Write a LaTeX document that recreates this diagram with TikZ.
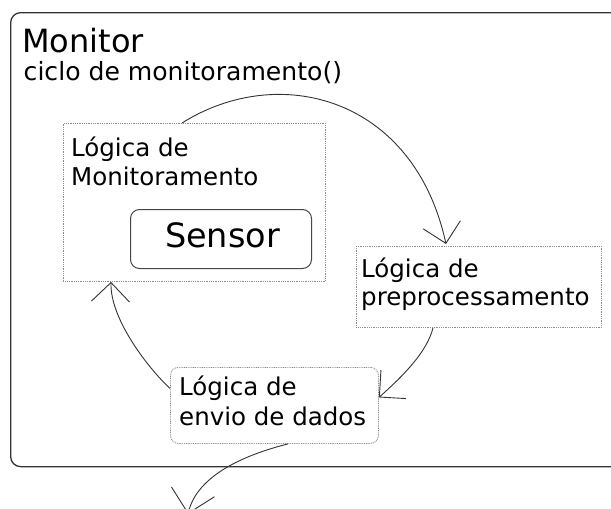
\documentclass[tikz,border=0pt]{standalone}
\usepackage{fontspec}
\setmainfont{DejaVu Sans}
\usetikzlibrary{arrows.meta}

\definecolor{edgeink}{HTML}{333333}
\definecolor{dotink}{HTML}{8C8C8C}

\tikzset{
  outerbox/.style={draw=edgeink, line width=1.3pt, rounded corners=10pt,
    anchor=north west, inner sep=0pt},
  dotbox/.style={draw=dotink, line width=0.9pt, dash pattern=on 0.9pt off 0.9pt,
    anchor=north west, inner sep=0pt},
  sensorbox/.style={draw=edgeink!90, line width=1pt, rounded corners=9pt,
    anchor=north west, inner sep=0pt},
  boxtext/.style={anchor=base west, inner sep=0pt, font=\fontsize{24.5}{29}\selectfont},
  conn/.style={draw=edgeink, line width=0.9pt,
    -{Straight Barb[length=19pt, width=38pt, line width=0.9pt]}},
}

\begin{document}
\begin{tikzpicture}[x=1pt, y=-1pt]
  \useasboundingbox (0,0) rectangle (611,509);
  \fill[white] (0,0) rectangle (611,509);
  \clip (0,0) rectangle (611,509);

  % container
  \node[outerbox, minimum width=640pt, minimum height=454pt] (monitor) at (10,12) {};
  \node[anchor=base west, inner sep=0pt, font=\fontsize{32}{36}\selectfont] (title) at (22,52) {Monitor};
  \node[anchor=base west, inner sep=0pt, font=\fontsize{25.1}{30}\selectfont] (loop) at (23.5,80) {ciclo de monitoramento()};

  % monitoring logic with its sensor
  \node[dotbox, minimum width=262pt, minimum height=158pt] (logmon) at (63,123) {};
  \node[boxtext] (logmon1) at (71,156) {Lógica de};
  \node[boxtext] (logmon2) at (71,185) {Monitoramento};
  \node[sensorbox, minimum width=181pt, minimum height=59pt, text depth=7pt,
        font=\fontsize{33.5}{38}\selectfont] (sensor) at (130,209) {\hspace{3pt}Sensor};

  % preprocessing logic
  \node[dotbox, minimum width=245pt, minimum height=81pt] (prep) at (356,246) {};
  \node[boxtext] (prep1) at (361,277) {Lógica de};
  \node[boxtext] (prep2) at (361,305) {preprocessamento};

  % data sending logic
  \node[dotbox, rounded corners=8pt, minimum width=208pt, minimum height=76pt] (envio) at (170,367) {};
  \node[boxtext] (envio1) at (179,395) {Lógica de};
  \node[boxtext] (envio2) at (179,425) {envio de dados};

  \coordinate (exit) at (188,514);

  % the monitoring cycle
  \draw[conn] ([xshift=119pt]logmon.north west)
    .. controls (279,62) and (414,97) .. ([xshift=90pt,yshift=2pt]prep.north west);
  \draw[conn] ([xshift=77pt]prep.south west)
    .. controls (427,352) and (403,376) .. ([yshift=8pt]envio.east);
  \draw[conn] ([yshift=17pt]envio.west)
    .. controls (150,370) and (110,320) .. ([xshift=48pt]logmon.south west);
  \draw[draw=edgeink, line width=0.9pt,
        -{Straight Barb[length=22pt, width=44pt, line width=0.9pt]}]
    ([xshift=118pt]envio.south west)
    .. controls (248,454) and (197,474) .. (exit);
\end{tikzpicture}
\end{document}
